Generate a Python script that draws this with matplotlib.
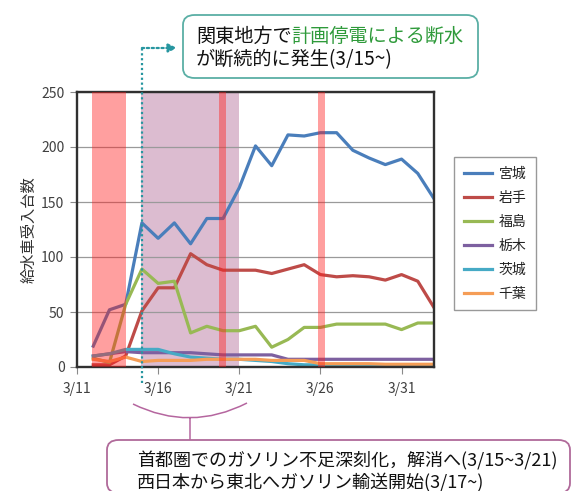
import matplotlib
matplotlib.use('Agg')
import matplotlib.pyplot as plt
import pandas as pd
from matplotlib.patches import FancyBboxPatch, PathPatch
from matplotlib.path import Path
from matplotlib.transforms import blended_transform_factory
from matplotlib.lines import Line2D
from matplotlib.text import Annotation

plt.rcParams['font.family'] = ['Noto Sans CJK JP', 'DejaVu Sans']

# ---------------- data ----------------
dates = ['3/12', '3/13', '3/14', '3/15', '3/16', '3/17', '3/18', '3/19', '3/20', '3/21', '3/22',
         '3/23', '3/24', '3/25', '3/26', '3/27', '3/28', '3/29', '3/30', '3/31', '4/1', '4/2']
miyagi  = [19, 52, 57, 131, 117, 131, 112, 135, 135, 163, 201, 183, 211, 210, 213, 213, 197, 190, 184, 189, 176, 153]
iwate   = [2, 2, 10, 51, 72, 72, 103, 93, 88, 88, 88, 85, 89, 93, 84, 82, 83, 82, 79, 84, 78, 54]
fukushima = [8, 4, 57, 89, 76, 78, 31, 37, 33, 33, 37, 18, 25, 36, 36, 39, 39, 39, 39, 34, 40, 40]
tochigi = [10, 12, 14, 13, 13, 13, 13, 12, 11, 11, 11, 11, 7, 7, 7, 7, 7, 7, 7, 7, 7, 7]
ibaraki = [10, 12, 16, 16, 16, 12, 9, 8, 7, 7, 6, 5, 3, 2, 2, 2, 2, 2, 2, 2, 2, 2]
chiba   = [7, 5, 9, 5, 6, 6, 6, 7, 7, 7, 7, 6, 6, 6, 3, 3, 3, 3, 2.5, 2.5, 2.5, 2.5]
series_names = ['宮城', '岩手', '福島', '栃木', '茨城', '千葉']
series_values = [miyagi, iwate, fukushima, tochigi, ibaraki, chiba]
tick_labels = ['3/11', '3/16', '3/21', '3/26', '3/31']
y_ticks = [0, 50, 100, 150, 200, 250]
# shaded periods, in days after 3/11
outage_spans = [(0.9, 3.0), (8.72, 9.18), (14.86, 15.27)]
gasoline_span = (3.95, 10.0)
marker_day = '3/15'

colors = ['#4A7EBB', '#BE4B48', '#98B954', '#7D60A0', '#46AAC5', '#F59D56']

# ---------------- figure ----------------
W, H = 582, 491
fig = plt.figure(figsize=(W / 100, H / 100), dpi=100)
fig.patch.set_facecolor('white')

def fx(px):
    return px / W

def fy(py):
    return 1 - py / H

ax = fig.add_axes([fx(77), fy(367), fx(434) - fx(77), fy(92) - fy(367)])

base = pd.Timestamp('2011-03-11')
def day(s):
    return (pd.to_datetime('2011/' + s) - base).days

xs = [day(d) for d in dates]

for name, vals, c in zip(series_names, series_values, colors):
    ax.plot(xs, vals, color=c, lw=2.3, label=name, zorder=2, solid_joinstyle='round')

ax.axvspan(*gasoline_span, color='#DCBCD0', lw=0, zorder=0.2)
for a, b in outage_spans:
    ax.axvspan(a, b, color='#FF1A1A', alpha=0.42, lw=0, zorder=3)

ax.set_xlim(0, 22)
ax.set_ylim(0, 250)
ax.set_xticks([day(t) for t in tick_labels])
ax.set_xticklabels(tick_labels)
ax.set_yticks(y_ticks)
ax.set_axisbelow(True)
ax.yaxis.grid(True, color='#9A9A9A', lw=0.9)
ax.tick_params(axis='both', labelsize=10, colors='#404040', length=5, width=0.8,
               direction='out', pad=4)
ax.tick_params(axis='x', pad=6)
ax.tick_params(axis='both', color='#8A8A8A')
for s in ax.spines.values():
    s.set_color('#303030')
    s.set_linewidth(1.7)
ax.set_ylabel('給水車受入台数', fontsize=11, color='#333333', labelpad=3)

# legend
leg = fig.legend(loc='upper left', bbox_to_anchor=(fx(454), fy(157)), bbox_transform=fig.transFigure,
                 borderaxespad=0, fontsize=10, frameon=True, fancybox=False, edgecolor='#808080',
                 handlelength=2.0, handletextpad=0.5, labelspacing=0.72, borderpad=0.7)
leg.get_frame().set_linewidth(1.0)
for t in leg.get_texts():
    t.set_color('#222222')

# dotted marker line at 3/15
trans = blended_transform_factory(ax.transData, fig.transFigure)
mx = day(marker_day)
ax.add_line(Line2D([mx, mx], [fy(383), fy(48)], transform=trans, color='#2796A0', lw=1.6,
                   ls=(0, (1, 1.2)), clip_on=False, zorder=5))
ax.annotate('', xy=(fx(177), fy(48)), xycoords='figure fraction',
            xytext=(mx, fy(48)), textcoords=trans,
            arrowprops=dict(arrowstyle='-|>,head_length=0.5,head_width=0.25', color='#2796A0',
                            lw=1.6, ls=(0, (1, 1.2)), shrinkA=0, shrinkB=0))

# top annotation box
top_box = FancyBboxPatch((fx(183), fy(78)), fx(478) - fx(183), fy(15) - fy(78),
                         boxstyle='round,pad=0,rounding_size=0.02', transform=fig.transFigure,
                         facecolor='white', edgecolor='#5AAFA5', lw=1.3, zorder=10)
fig.patches.append(top_box)
t1 = fig.text(fx(196), fy(36), '関東地方で', fontsize=13.8, color='#111111', va='center', ha='left', zorder=11)
ann = Annotation('計画停電による断水', xy=(1, 0.5), xycoords=t1, va='center', ha='left',
                 fontsize=13.8, color='#2E9A3A', annotation_clip=False, zorder=11)
fig.add_artist(ann)
fig.text(fx(196), fy(60), 'が断続的に発生(3/15~)', fontsize=13.8, color='#111111', va='center', ha='left', zorder=11)

# brace under the gasoline period
p0 = (fx(133), fy(404))
c0 = (fx(190), fy(432))
p2 = (fx(247), fy(403))
brace = Path([p0, c0, p2, (fx(190), fy(418)), (fx(190), fy(440))],
             [Path.MOVETO, Path.CURVE3, Path.CURVE3, Path.MOVETO, Path.LINETO])
fig.patches.append(PathPatch(brace, transform=fig.transFigure, facecolor='none', edgecolor='#B5669F', lw=1.1))

# bottom annotation box
bot_box = FancyBboxPatch((fx(107), fy(493)), fx(570) - fx(107), fy(440) - fy(493),
                         boxstyle='round,pad=0,rounding_size=0.02', transform=fig.transFigure,
                         facecolor='white', edgecolor='#B06A9A', lw=1.3, zorder=10)
fig.patches.append(bot_box)
fig.text(fx(137), fy(461), '首都圏でのガソリン不足深刻化，解消へ(3/15~3/21)', fontsize=13, color='#111111',
         va='center', ha='left', zorder=11)
fig.text(fx(137), fy(482), '西日本から東北へガソリン輸送開始(3/17~)', fontsize=13, color='#111111',
         va='center', ha='left', zorder=11)

fig.savefig('out.png', dpi=100, facecolor='white')
